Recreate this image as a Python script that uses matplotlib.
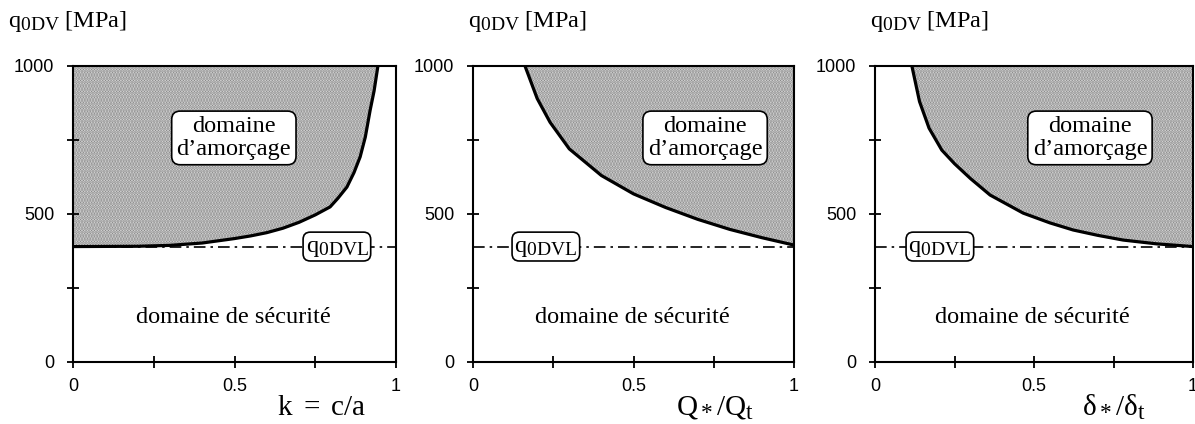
import numpy as np
import matplotlib
from matplotlib import pyplot as plt
import matplotlib._mathtext as mt

# bigger subscripts, closer to the typeset original
mt.SHRINK_FACTOR = 0.8

plt.rcParams["mathtext.fontset"] = "custom"
plt.rcParams["mathtext.rm"] = "Liberation Serif"
plt.rcParams["mathtext.it"] = "Liberation Serif:italic"
plt.rcParams["mathtext.sf"] = "Liberation Serif"
plt.rcParams["hatch.linewidth"] = 1.6

# data
k_vals = [0.0, 0.2, 0.3, 0.4, 0.5, 0.55, 0.6, 0.65, 0.7, 0.75, 0.796,
          0.82, 0.848, 0.87, 0.889, 0.905, 0.92, 0.932, 0.944]
q_k = [390, 391, 394, 402, 417, 426, 437, 452, 472, 497, 524,
       553, 591, 640, 693, 760, 851, 915, 1000]

Q_vals = [0.162, 0.2, 0.24, 0.3, 0.4, 0.5, 0.6, 0.7, 0.8, 0.9, 1.0]
q_Q = [1000, 890, 810, 720, 630, 568, 522, 482, 448, 420, 395]

d_vals = [0.116, 0.14, 0.17, 0.21, 0.25, 0.3, 0.362, 0.466, 0.55, 0.623, 0.7, 0.78, 0.887, 1.0]
q_d = [1000, 880, 790, 716, 670, 620, 564, 503, 470, 446, 428, 412, 399, 390]

q_limit = 390

curves = [(k_vals, q_k), (Q_vals, q_Q), (d_vals, q_d)]
xlabels = [r"k $=$ c/a", r"$\mathrm{Q}_*/\mathrm{Q}_\mathrm{t}$",
           r"$\mathrm{\delta}_*/\mathrm{\delta}_\mathrm{t}$"]
xlabel_pos = [0.91, 0.875, 0.85]
amorcage_pos = [0.498, 0.723, 0.676]
limit_pos = [0.817, 0.227, 0.204]
ylabel_px = [8, 468, 870]

W, H = 1195, 424
fig = plt.figure(figsize=(W / 100, H / 100), dpi=100)
axes_px = [(73, 323), (473, 321), (875, 318)]

serif = "Liberation Serif"
for i, (left, width) in enumerate(axes_px):
    ax = fig.add_axes([left / W, (H - 362) / H, width / W, 296 / H])
    x, y = curves[i]
    ax.fill_between(x, y, 1000, facecolor="#e8e8e8", edgecolor="#848484",
                    hatch="......", linewidth=0, zorder=1)
    ax.plot(x, y, color="black", lw=2.3, zorder=3)
    ax.plot([0, 1], [q_limit, q_limit], color="black", lw=1.2,
            dashes=(7, 3, 1.5, 3), zorder=2)
    ax.set_xlim(0, 1)
    ax.set_ylim(0, 1000)
    ax.set_xticks([0, 0.5, 1])
    ax.set_xticklabels(["0", "0.5", "1"])
    ax.set_xticks([0.25, 0.75], minor=True)
    ax.set_yticks([0, 500, 1000])
    ax.set_yticks([250, 750], minor=True)
    for which in ("major", "minor"):
        ax.tick_params(axis="both", which=which, direction="inout", length=9,
                       width=1.3, labelsize=13, labelfontfamily="Liberation Sans")
    ax.tick_params(axis="x", which="major", pad=7)
    ax.tick_params(axis="y", which="major", pad=9)
    for s in ax.spines.values():
        s.set_linewidth(1.5)

    box = dict(boxstyle="round,pad=0.2,rounding_size=0.35", facecolor="white",
               edgecolor="black", linewidth=1.2)
    ax.text(amorcage_pos[i], 757, "domaine\nd\u2019amor\u00e7age", ha="center",
            va="center", family=serif, fontsize=17.5, bbox=box, zorder=5,
            linespacing=1.12)
    ax.text(limit_pos[i], q_limit, r"$\mathrm{q}_{\mathrm{0DVL}}$", ha="center",
            va="center", fontsize=17.5, zorder=5,
            bbox=dict(boxstyle="round,pad=0.1,rounding_size=0.3",
                      facecolor="white", edgecolor="black", linewidth=1.2))
    ax.text(0.495, 152, "domaine de s\u00e9curit\u00e9", ha="center", va="center",
            family=serif, fontsize=17.5)
    ax.text(xlabel_pos[i], -0.155, xlabels[i], transform=ax.transAxes,
            ha="right", va="center", family=serif, fontsize=21)
    fig.text(ylabel_px[i] / W, 1 - 22 / H, r"$\mathrm{q}_{\mathrm{0DV}}$ [MPa]",
             ha="left", va="center", family=serif, fontsize=17.5)

fig.savefig("out.png", dpi=100)
